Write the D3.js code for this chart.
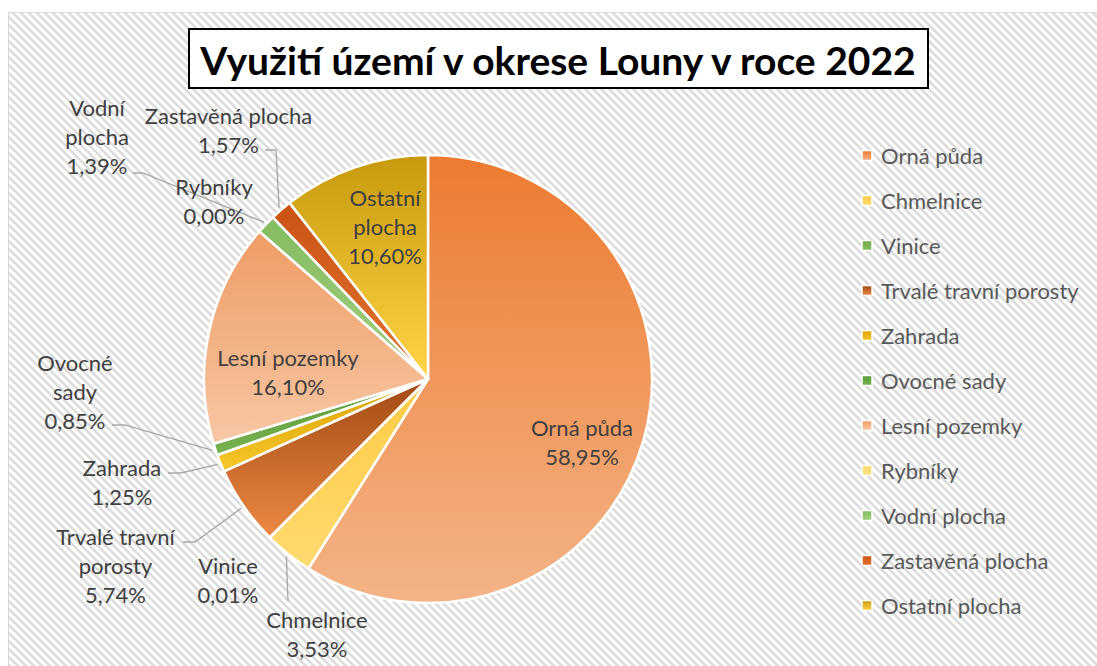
<!DOCTYPE html>
<html><head><meta charset="utf-8">
<script src="https://cdn.jsdelivr.net/npm/d3@7"></script>
<style>body{margin:0;background:#fff} svg{display:block}</style>
</head><body><svg id="c" width="1097" height="666"></svg>
<script>
// ---- data ----
const title = "Využití území v okrese Louny v roce 2022";
const categories = ["Orná půda","Chmelnice","Vinice","Trvalé travní porosty","Zahrada","Ovocné sady","Lesní pozemky","Rybníky","Vodní plocha","Zastavěná plocha","Ostatní plocha"];
const shares = [58.95,3.53,0.01,5.74,1.25,0.85,16.10,0.00,1.39,1.57,10.60];
const labelLines = [["Orná půda"],["Chmelnice"],["Vinice"],["Trvalé travní","porosty"],["Zahrada"],["Ovocné","sady"],["Lesní pozemky"],["Rybníky"],["Vodní","plocha"],["Zastavěná plocha"],["Ostatní","plocha"]];

// ---- styles ----
const topColors    = ["#EC7B30","#FDCB45","#70AD47","#A04A14","#D9A404","#5C9A38","#EF9D64","#FFD966","#84BD60","#CA5313","#C69A0C"];
const bottomColors = ["#F4B487","#FFDA70","#86BD60","#EE8944","#F7C62A","#76B24F","#F7C7A5","#FFE08A","#A2CF84","#E2732F","#FFD447"];

// label layout: x center, first line center y, optional leader line start points
const labelLayout = [
  {x:582, y:427},
  {x:317, y:619, leader:[[288,601]]},
  {x:228, y:565},
  {x:115.5, y:536, leader:[[183,542],[195,542]]},
  {x:122, y:467, leader:[[168,473],[181,473]]},
  {x:75, y:362, leader:[[112,425],[125,425]]},
  {x:288, y:357},
  {x:214, y:186},
  {x:97, y:107, leader:[[133,173],[143,173]]},
  {x:228.5, y:115, leader:[[265,150],[276,150]]},
  {x:385, y:197}
];

const W = 1097, H = 666;
const cx = 428, cy = 379, R = 224;
const FONT = "Lato, 'Open Sans', sans-serif";
const svg = d3.select("#c");
const defs = svg.append("defs");

// stripe pattern
const pat = defs.append("pattern").attr("id","diag").attr("width",8).attr("height",8)
  .attr("patternUnits","userSpaceOnUse");
pat.append("rect").attr("width",8).attr("height",8).attr("fill","#fff");
pat.append("path").attr("d","M-2,-2L10,10M-2,6L2,10M6,-2L10,2")
  .attr("stroke","#DCDCDC").attr("stroke-width",2.6);

// gradients
categories.forEach((c,i)=>{
  const g = defs.append("linearGradient").attr("id","g"+i)
    .attr("x1",0).attr("y1",0).attr("x2",0).attr("y2",1);
  g.append("stop").attr("offset","0%").attr("stop-color",topColors[i]);
  g.append("stop").attr("offset","100%").attr("stop-color",bottomColors[i]);
});

svg.append("rect").attr("width",W).attr("height",H).attr("fill","#fff");
svg.append("rect").attr("x",8.5).attr("y",12.5).attr("width",W).attr("height",H)
  .attr("fill","url(#diag)").attr("stroke","#D9D9D9").attr("stroke-width",1);

// title
svg.append("rect").attr("x",189).attr("y",29).attr("width",739).attr("height",59)
  .attr("fill","#fff").attr("stroke","#000").attr("stroke-width",2);
svg.append("text").attr("x",558).attr("y",60).attr("text-anchor","middle")
  .attr("dominant-baseline","central")
  .style("font-family",FONT).style("font-weight","bold").style("font-size","39px")
  .attr("fill","#000").text(title);

// pie
const pie = d3.pie().sort(null).value(d=>d);
const arcs = pie(shares);
const arc = d3.arc().innerRadius(0).outerRadius(R);
const g = svg.append("g").attr("transform",`translate(${cx},${cy})`);
g.selectAll("path").data(arcs.filter(a=>a.value>0)).join("path")
  .attr("d",arc)
  .attr("fill",d=>`url(#g${d.index})`)
  .attr("stroke","#fff").attr("stroke-width",2.5).attr("stroke-linejoin","round");

// leader lines
const fmt = v => d3.format(".2f")(v).replace(".",",") + "%";
arcs.forEach((a,i)=>{
  const L = labelLayout[i];
  if(!L.leader) return;
  const mid = (a.startAngle + a.endAngle)/2;
  const end = [cx + (R+3)*Math.sin(mid), cy - (R+3)*Math.cos(mid)];
  const pts = L.leader.concat([end]);
  svg.append("path").attr("d", d3.line()(pts))
    .attr("fill","none").attr("stroke","#A6A6A6").attr("stroke-width",1.3);
});

// labels
const lineH = 29;
arcs.forEach((a,i)=>{
  const L = labelLayout[i];
  const lines = labelLines[i].concat([fmt(shares[i])]);
  const t = svg.append("text").attr("text-anchor","middle")
    .style("font-family",FONT).style("font-size","22px").attr("fill","#404040");
  lines.forEach((s,k)=>{
    t.append("tspan").attr("x",L.x).attr("y",L.y + k*lineH)
      .attr("dominant-baseline","central").text(s);
  });
});

// legend
const lg = svg.append("g");
categories.forEach((c,i)=>{
  const y = 155.5 + i*45;
  lg.append("rect").attr("x",862).attr("y",y-5).attr("width",10).attr("height",10)
    .attr("fill",`url(#g${i})`).attr("stroke","#fff").attr("stroke-width",1.5);
  lg.append("text").attr("x",881).attr("y",y).attr("dominant-baseline","central")
    .style("font-family",FONT).style("font-size","22px").attr("fill","#595959").text(c);
});
</script></body></html>
